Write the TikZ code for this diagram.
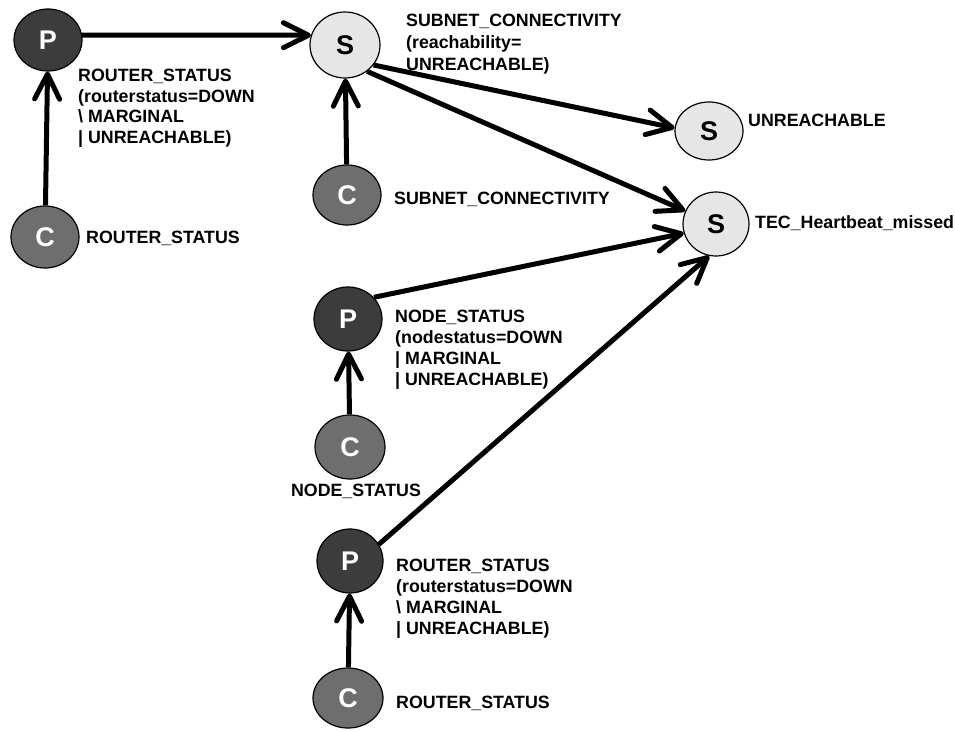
\documentclass[tikz,border=0pt]{standalone}
\usepackage{fontspec}
\setmainfont{Liberation Sans}
\usetikzlibrary{shapes.geometric,arrows.meta}
\definecolor{pfill}{HTML}{3C3C3C}
\definecolor{cfill}{HTML}{6E6E6E}
\definecolor{sfill}{HTML}{E6E6E6}
% lines of a label, aligned on the baseline of the first line
\newcommand{\labellines}[1]{\begin{tabular}[t]{@{}l@{}}#1\end{tabular}}
\begin{document}
\begin{tikzpicture}[x=1pt,y=-1pt,
  blob/.style={ellipse,draw=black,line width=1.2pt,inner sep=0pt,
    font=\fontsize{27}{27}\selectfont\bfseries},
  pnode/.style={blob,fill=pfill,text=white},
  cnode/.style={blob,fill=cfill,text=white},
  snode/.style={blob,fill=sfill,text=black},
  lbl/.style={font=\fontsize{17.8}{21}\selectfont\bfseries,
    inner sep=0pt,anchor=base west},
  link/.style={line width=5pt,
    -{Straight Barb[length=25pt,width=25pt,round]}}
]
\useasboundingbox (0,0) rectangle (955,731);

% event nodes
\node[pnode,minimum width=68pt,minimum height=62pt] (P1) at (48,40) {P};
\node[cnode,minimum width=68pt,minimum height=62pt] (C1) at (45,237) {C};
\node[snode,minimum width=70pt,minimum height=66pt] (S1) at (345,45) {S};
\node[cnode,minimum width=68pt,minimum height=60pt] (C2) at (347,195) {C};
\node[snode,minimum width=68pt,minimum height=58pt] (S2) at (709,131) {S};
\node[snode,minimum width=66pt,minimum height=64pt] (S3) at (716,224) {S};
\node[pnode,minimum width=68pt,minimum height=64pt] (P2) at (348,319) {P};
\node[cnode,minimum width=70pt,minimum height=64pt] (C3) at (350,447) {C};
\node[pnode,minimum width=66pt,minimum height=64pt] (P3) at (350,561) {P};
\node[cnode,minimum width=70pt,minimum height=60pt] (C4) at (348,698) {C};

% labels
\node[lbl,font=\fontsize{17.8}{20.5}\selectfont\bfseries] (lP1) at (78,81.7)
  {\labellines{ROUTER\_STATUS\\(routerstatus=DOWN\\\textbackslash{} MARGINAL\\| UNREACHABLE)}};
\node[lbl] (lC1) at (86,243) {ROUTER\_STATUS};
\node[lbl,font=\fontsize{17.8}{21.7}\selectfont\bfseries] (lS1) at (406,26.7)
  {\labellines{SUBNET\_CONNECTIVITY\\(reachability=\\UNREACHABLE)}};
\node[lbl] (lC2) at (394,204) {SUBNET\_CONNECTIVITY};
\node[lbl] (lS2) at (748,126) {UNREACHABLE};
\node[lbl] (lS3) at (755,228.3) {TEC\_Heartbeat\_missed};
\node[lbl] (lP2) at (395,322.3)
  {\labellines{NODE\_STATUS\\(nodestatus=DOWN\\| MARGINAL\\| UNREACHABLE)}};
\node[lbl,anchor=base] (lC3) at (356,496) {NODE\_STATUS};
\node[lbl] (lP3) at (396,571.7)
  {\labellines{ROUTER\_STATUS\\(routerstatus=DOWN\\\textbackslash{} MARGINAL\\| UNREACHABLE)}};
\node[lbl] (lC4) at (396,708.3) {ROUTER\_STATUS};

% connectors
\draw[link] (C1) -- (P1);
\draw[link] (P1.8) -- (S1.164);
\draw[link] (C2) -- (S1);
\draw[link] (S1.-35) -- (S2.175);
\draw[link] (S1.-50) -- (S3.157);
\draw[link] (C3) -- (P2);
\draw[link] (P2.40) -- (S3.196);
\draw[link] (C4) -- (P3);
\draw[link] (P3.30) -- (S3.258);
\end{tikzpicture}
\end{document}
